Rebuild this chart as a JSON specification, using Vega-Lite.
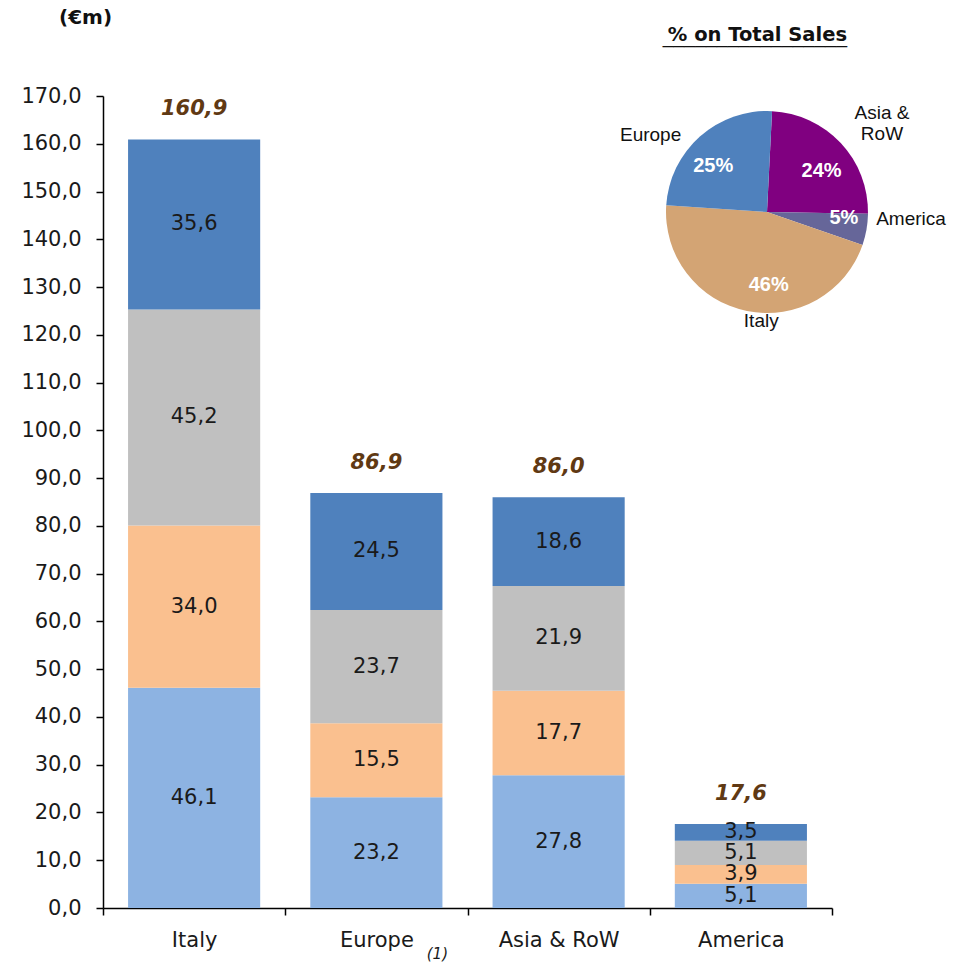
{
  "$schema": "https://vega.github.io/schema/vega-lite/v6.json",
  "autosize": {"type": "none"},
  "padding": {"left": 103, "top": 96, "right": 136, "bottom": 56},
  "width": 729,
  "height": 812,
  "config": {
    "locale": {"number": {"decimal": ",", "thousands": ".", "grouping": [3], "currency": ["", " €"]}},
    "view": {"stroke": null},
    "font": "DejaVu Sans"
  },
  "title": {
    "text": "% on Total Sales",
    "subtitle": "_________________",
    "anchor": "end",
    "frame": "group",
    "dx": 15,
    "offset": -40,
    "font": "DejaVu Sans",
    "fontSize": 19.5,
    "fontWeight": "bold",
    "color": "#111111",
    "subtitleFont": "Liberation Sans",
    "subtitleFontSize": 19.5,
    "subtitleColor": "#111111",
    "subtitlePadding": -18
  },
  "datasets": {
    "bars": [
      {"region": "Italy", "series": "A", "seq": 1, "value": 46.1},
      {"region": "Italy", "series": "B", "seq": 2, "value": 34.0},
      {"region": "Italy", "series": "C", "seq": 3, "value": 45.2},
      {"region": "Italy", "series": "D", "seq": 4, "value": 35.6},
      {"region": "Europe", "series": "A", "seq": 1, "value": 23.2},
      {"region": "Europe", "series": "B", "seq": 2, "value": 15.5},
      {"region": "Europe", "series": "C", "seq": 3, "value": 23.7},
      {"region": "Europe", "series": "D", "seq": 4, "value": 24.5},
      {"region": "Asia & RoW", "series": "A", "seq": 1, "value": 27.8},
      {"region": "Asia & RoW", "series": "B", "seq": 2, "value": 17.7},
      {"region": "Asia & RoW", "series": "C", "seq": 3, "value": 21.9},
      {"region": "Asia & RoW", "series": "D", "seq": 4, "value": 18.6},
      {"region": "America", "series": "A", "seq": 1, "value": 5.1},
      {"region": "America", "series": "B", "seq": 2, "value": 3.9},
      {"region": "America", "series": "C", "seq": 3, "value": 5.1},
      {"region": "America", "series": "D", "seq": 4, "value": 3.5}
    ],
    "totals": [
      {"region": "Italy", "total": 160.9},
      {"region": "Europe", "total": 86.9},
      {"region": "Asia & RoW", "total": 86.0},
      {"region": "America", "total": 17.6}
    ],
    "notes": [
      {"region": "Europe", "note": "(1)"}
    ],
    "pie": [
      {"name": "Asia & RoW", "label": "Asia &\nRoW", "ord": 1, "sales": 86.0, "pct": "24%"},
      {"name": "America", "label": "America", "ord": 2, "sales": 17.6, "pct": "5%"},
      {"name": "Italy", "label": "Italy", "ord": 3, "sales": 160.9, "pct": "46%"},
      {"name": "Europe", "label": "Europe", "ord": 4, "sales": 86.9, "pct": "25%"}
    ]
  },
  "layer": [
    {
      "data": {"name": "bars"},
      "mark": {"type": "bar", "width": {"band": 0.725}},
      "encoding": {
        "x": {
          "field": "region", "type": "nominal", "sort": null,
          "scale": {"domain": ["Italy", "Europe", "Asia & RoW", "America"], "paddingInner": 0, "paddingOuter": 0},
          "axis": {
            "title": null, "labelAngle": 0, "labelFontSize": 21, "labelColor": "#1a1a1a",
            "domainColor": "#000000", "domainWidth": 1.5, "tickColor": "#000000", "tickWidth": 1.5,
            "tickSize": 7, "tickBand": "extent", "labelPadding": 14, "grid": false
          }
        },
        "y": {
          "field": "value", "type": "quantitative", "stack": "zero",
          "scale": {"domain": [0, 170], "nice": false},
          "axis": {
            "title": "(€m)", "titleAngle": 0, "titleX": -18, "titleY": -79, "titleAlign": "center",
            "titleBaseline": "middle", "titleFontSize": 20, "titleFontWeight": "bold", "titleColor": "#111111",
            "values": [0, 10, 20, 30, 40, 50, 60, 70, 80, 90, 100, 110, 120, 130, 140, 150, 160, 170],
            "format": ".1f", "labelFontSize": 21, "labelColor": "#1a1a1a", "labelPadding": 15,
            "domainColor": "#000000", "domainWidth": 1.5, "tickColor": "#000000", "tickWidth": 1.5,
            "tickSize": 7, "grid": false
          }
        },
        "color": {
          "field": "series", "type": "nominal",
          "scale": {"domain": ["A", "B", "C", "D"], "range": ["#8DB3E2", "#FAC08F", "#C0C0C0", "#4F81BD"]},
          "legend": null
        },
        "order": {"field": "seq"}
      }
    },
    {
      "data": {"name": "bars"},
      "mark": {"type": "text", "fontSize": 21, "color": "#1a1a1a", "baseline": "middle"},
      "encoding": {
        "x": {"field": "region", "type": "nominal", "sort": null},
        "y": {"field": "value", "type": "quantitative", "stack": "zero", "bandPosition": 0.5},
        "detail": {"field": "series"},
        "order": {"field": "seq"},
        "text": {"field": "value", "type": "quantitative", "format": ".1f"}
      }
    },
    {
      "data": {"name": "totals"},
      "mark": {"type": "text", "fontSize": 21, "fontWeight": "bold", "fontStyle": "italic", "color": "#603913", "baseline": "bottom", "dy": -20},
      "encoding": {
        "x": {"field": "region", "type": "nominal", "sort": null},
        "y": {"field": "total", "type": "quantitative"},
        "text": {"field": "total", "type": "quantitative", "format": ".1f"}
      }
    },
    {
      "data": {"name": "notes"},
      "mark": {"type": "text", "fontSize": 15, "fontStyle": "italic", "color": "#1a1a1a", "dx": 61, "dy": 46},
      "encoding": {
        "x": {"field": "region", "type": "nominal", "sort": null},
        "y": {"datum": 0, "type": "quantitative"},
        "text": {"field": "note"}
      }
    },
    {
      "data": {"name": "pie"},
      "mark": {"type": "arc", "x": 664, "y": 116, "outerRadius": 101},
      "encoding": {
        "theta": {"field": "sales", "type": "quantitative", "stack": true, "scale": {"range": [0.05, 6.3332]}},
        "color": {
          "field": "name", "type": "nominal",
          "scale": {"domain": ["Asia & RoW", "America", "Italy", "Europe"], "range": ["#800080", "#666699", "#D3A474", "#4F81BD"]},
          "legend": null
        },
        "order": {"field": "ord"}
      }
    },
    {
      "data": {"name": "pie"},
      "mark": {
        "type": "text", "x": 664, "y": 116, "radius": 72, "font": "Liberation Sans", "fontSize": 20, "fontWeight": "bold",
        "color": "#ffffff", "baseline": "middle", "align": "center",
        "dx": {"expr": "datum.name == 'Italy' ? 16 : datum.name == 'Europe' ? -6 : datum.name == 'America' ? 6 : 2"},
        "dy": {"expr": "datum.name == 'Europe' ? 8 : datum.name == 'Asia & RoW' ? 8 : datum.name == 'America' ? -6 : 2"}
      },
      "encoding": {
        "theta": {"field": "sales", "type": "quantitative", "stack": true},
        "order": {"field": "ord"},
        "text": {"field": "pct"}
      }
    },
    {
      "data": {"name": "pie"},
      "mark": {
        "type": "text", "x": 664, "y": 116, "radius": 130, "font": "Liberation Sans", "fontSize": 19, "color": "#111111",
        "baseline": "middle", "align": "center", "lineBreak": "\n",
        "dx": {"expr": "datum.name == 'Europe' ? -30 : datum.name == 'Asia & RoW' ? 20 : datum.name == 'America' ? 16 : 20"},
        "dy": {"expr": "datum.name == 'Europe' ? 20 : datum.name == 'Asia & RoW' ? -10 : datum.name == 'America' ? -16 : -18"}
      },
      "encoding": {
        "theta": {"field": "sales", "type": "quantitative", "stack": true},
        "order": {"field": "ord"},
        "text": {"field": "label"}
      }
    }
  ],
  "resolve": {"scale": {"color": "independent"}}
}
